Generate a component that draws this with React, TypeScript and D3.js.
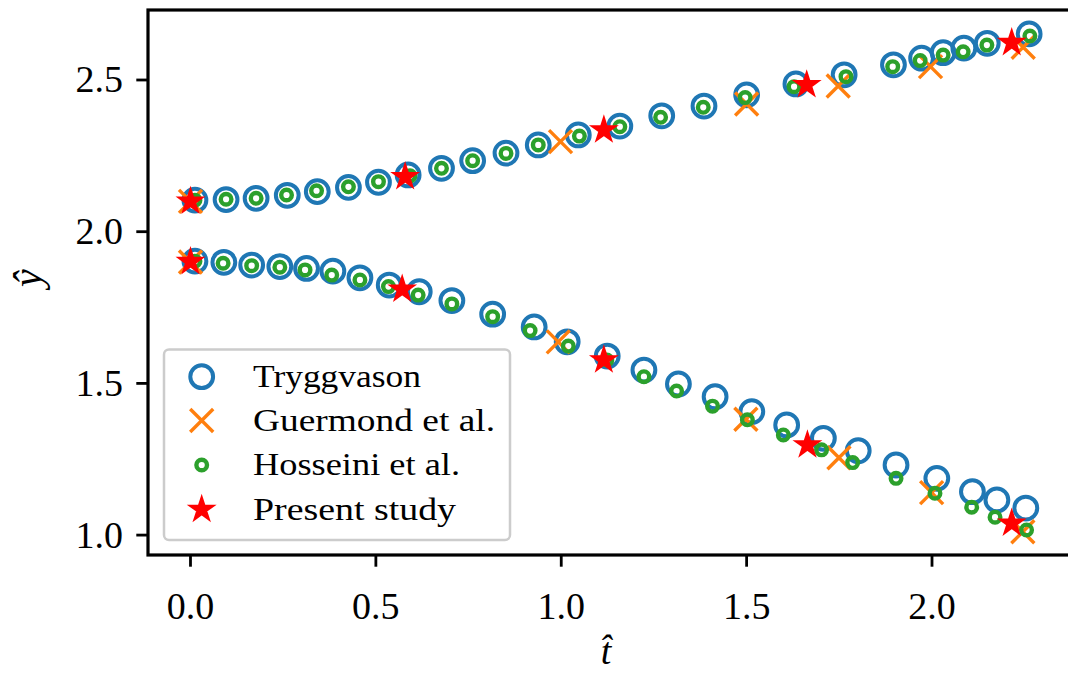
import React from "react";
import * as d3 from "d3";

// ---- data ----
const trygUpperT = [0.012, 0.096, 0.177, 0.261, 0.342, 0.426, 0.507, 0.587, 0.677, 0.761, 0.851, 0.938, 1.046, 1.158, 1.271, 1.385, 1.5, 1.633, 1.763, 1.896, 1.972, 2.03, 2.086, 2.149, 2.262];
const trygUpperY = [2.104, 2.106, 2.11, 2.12, 2.132, 2.146, 2.163, 2.187, 2.209, 2.234, 2.259, 2.286, 2.319, 2.348, 2.382, 2.414, 2.451, 2.487, 2.517, 2.55, 2.572, 2.59, 2.605, 2.621, 2.652];
const trygLowerT = [0.012, 0.09, 0.165, 0.241, 0.313, 0.384, 0.457, 0.536, 0.617, 0.705, 0.815, 0.927, 1.016, 1.124, 1.223, 1.316, 1.415, 1.514, 1.608, 1.707, 1.801, 1.903, 2.013, 2.109, 2.175, 2.253];
const trygLowerY = [1.903, 1.899, 1.89, 1.885, 1.879, 1.87, 1.848, 1.824, 1.802, 1.773, 1.728, 1.686, 1.637, 1.59, 1.544, 1.498, 1.456, 1.407, 1.363, 1.319, 1.278, 1.231, 1.187, 1.143, 1.116, 1.089];

const guerUpperT = [0.0, 0.998, 1.5, 1.747, 1.996, 2.246];
const guerUpperY = [2.1, 2.297, 2.421, 2.48, 2.544, 2.608];
const guerLowerT = [0.0, 0.992, 1.498, 1.749, 1.999, 2.245];
const guerLowerY = [1.9, 1.637, 1.382, 1.255, 1.14, 1.011];

const hossUpperT = [0.012, 0.096, 0.177, 0.259, 0.34, 0.426, 0.507, 0.592, 0.677, 0.761, 0.851, 0.938, 1.049, 1.158, 1.268, 1.383, 1.496, 1.628, 1.768, 1.894, 1.968, 2.03, 2.084, 2.148, 2.264];
const hossUpperY = [2.104, 2.107, 2.11, 2.121, 2.135, 2.148, 2.165, 2.184, 2.209, 2.234, 2.258, 2.286, 2.315, 2.346, 2.377, 2.41, 2.442, 2.478, 2.511, 2.544, 2.564, 2.582, 2.593, 2.615, 2.645];
const hossLowerT = [0.012, 0.088, 0.165, 0.241, 0.309, 0.381, 0.457, 0.534, 0.614, 0.705, 0.815, 0.916, 1.019, 1.123, 1.223, 1.311, 1.408, 1.502, 1.599, 1.702, 1.786, 1.903, 2.008, 2.107, 2.17, 2.255];
const hossLowerY = [1.903, 1.896, 1.888, 1.883, 1.874, 1.857, 1.841, 1.819, 1.791, 1.762, 1.72, 1.674, 1.623, 1.577, 1.522, 1.475, 1.425, 1.38, 1.33, 1.281, 1.239, 1.187, 1.138, 1.092, 1.059, 1.017];

const presUpperT = [0.0, 0.579, 1.115, 1.662, 2.215];
const presUpperY = [2.1, 2.181, 2.335, 2.484, 2.623];
const presLowerT = [0.0, 0.571, 1.115, 1.664, 2.215];
const presLowerY = [1.901, 1.81, 1.577, 1.297, 1.039];

const xTicks = [0.0, 0.5, 1.0, 1.5, 2.0];
const yTicks = [1.0, 1.5, 2.0, 2.5];
const legendLabels = ["Tryggvason", "Guermond et al.", "Hosseini et al.", "Present study"];

const W = 1068;
const H = 673;
const plot = { left: 148, right: 1070, top: 10, bottom: 555 };

const x = d3.scaleLinear().domain([-0.1146, 2.3722]).range([plot.left, plot.right]);
const y = d3.scaleLinear().domain([0.9344, 2.7307]).range([plot.bottom, plot.top]);

const BLUE = "#1f77b4";
const ORANGE = "#ff7f0e";
const GREEN = "#2ca02c";
const RED = "#ff0000";
const FONT = "'Liberation Serif', 'DejaVu Serif', serif";

const zip = (ts: number[], ys: number[]) => ts.map((t, i) => [t, ys[i]] as [number, number]);

const starPath = d3.symbol().type(d3.symbolStar).size(175)() as string;

function Circle({ cx, cy, r, color, sw }: { cx: number; cy: number; r: number; color: string; sw: number }) {
  return <circle cx={cx} cy={cy} r={r} fill="none" stroke={color} strokeWidth={sw} />;
}
function Cross({ cx, cy }: { cx: number; cy: number }) {
  const h = 11.5;
  return (
    <path
      d={`M${cx - h},${cy - h}L${cx + h},${cy + h}M${cx - h},${cy + h}L${cx + h},${cy - h}`}
      stroke={ORANGE}
      strokeWidth={3.4}
      fill="none"
    />
  );
}
function Star({ cx, cy }: { cx: number; cy: number }) {
  return <path d={starPath} transform={`translate(${cx},${cy})`} fill={RED} stroke={RED} strokeWidth={2} strokeLinejoin="miter" />;
}

export default function App() {
  const tryg = [...zip(trygUpperT, trygUpperY), ...zip(trygLowerT, trygLowerY)];
  const guer = [...zip(guerUpperT, guerUpperY), ...zip(guerLowerT, guerLowerY)];
  const hoss = [...zip(hossUpperT, hossUpperY), ...zip(hossLowerT, hossLowerY)];
  const pres = [...zip(presUpperT, presUpperY), ...zip(presLowerT, presLowerY)];

  const legX = 201.7;
  const legRows = [376.7, 420.5, 465, 509.5];
  const legTextX = 253;
  const legTextW = [168, 242, 207, 203];

  return (
    <svg width={W} height={H} style={{ position: "absolute", left: 0, top: 0, background: "#fff" }} xmlns="http://www.w3.org/2000/svg">
      <rect x={0} y={0} width={W} height={H} fill="#fff" />
      {/* data */}
      <g>
        {tryg.map(([t, v], i) => (
          <Circle key={"b" + i} cx={x(t)} cy={y(v)} r={11.4} color={BLUE} sw={4} />
        ))}
        {guer.map(([t, v], i) => (
          <Cross key={"o" + i} cx={x(t)} cy={y(v)} />
        ))}
        {hoss.map(([t, v], i) => (
          <Circle key={"g" + i} cx={x(t)} cy={y(v)} r={5.3} color={GREEN} sw={4.4} />
        ))}
        {pres.map(([t, v], i) => (
          <Star key={"r" + i} cx={x(t)} cy={y(v)} />
        ))}
      </g>
      {/* spines */}
      <rect x={plot.left} y={plot.top} width={plot.right - plot.left} height={plot.bottom - plot.top} fill="none" stroke="#000" strokeWidth={3.2} />
      {/* x ticks */}
      {xTicks.map((t) => (
        <g key={"xt" + t}>
          <line x1={x(t)} x2={x(t)} y1={plot.bottom} y2={plot.bottom + 11.7} stroke="#000" strokeWidth={2.8} />
          <text x={x(t)} y={619} textAnchor="middle" fontFamily={FONT} fontSize={38}>
            {t.toFixed(1)}
          </text>
        </g>
      ))}
      {/* y ticks */}
      {yTicks.map((v) => (
        <g key={"yt" + v}>
          <line x1={plot.left} x2={plot.left - 11.7} y1={y(v)} y2={y(v)} stroke="#000" strokeWidth={2.8} />
          <text x={123} y={y(v) + 12.5} textAnchor="end" fontFamily={FONT} fontSize={38}>
            {v.toFixed(1)}
          </text>
        </g>
      ))}
      {/* axis labels */}
      <text x={606} y={664} textAnchor="middle" fontFamily={FONT} fontStyle="italic" fontSize={38}>
        {"t\u0302"}
      </text>
      <text transform={`translate(41,278) rotate(-90)`} textAnchor="middle" fontFamily={FONT} fontStyle="italic" fontSize={40}>
        {"\u0177"}
      </text>
      {/* legend */}
      <rect x={164} y={349.5} width={346} height={190.5} rx={5} ry={5} fill="#fff" fillOpacity={0.8} stroke="#cccccc" strokeWidth={2.5} />
      <Circle cx={legX} cy={legRows[0]} r={11.4} color={BLUE} sw={4} />
      <Cross cx={legX} cy={legRows[1]} />
      <Circle cx={legX} cy={legRows[2]} r={5.3} color={GREEN} sw={4.4} />
      <Star cx={legX} cy={legRows[3]} />
      {legendLabels.map((l, i) => (
        <text key={l} x={legTextX} y={legRows[i] + 10.3} fontFamily={FONT} fontSize={31} textLength={legTextW[i]} lengthAdjust="spacingAndGlyphs">
          {l}
        </text>
      ))}
    </svg>
  );
}
